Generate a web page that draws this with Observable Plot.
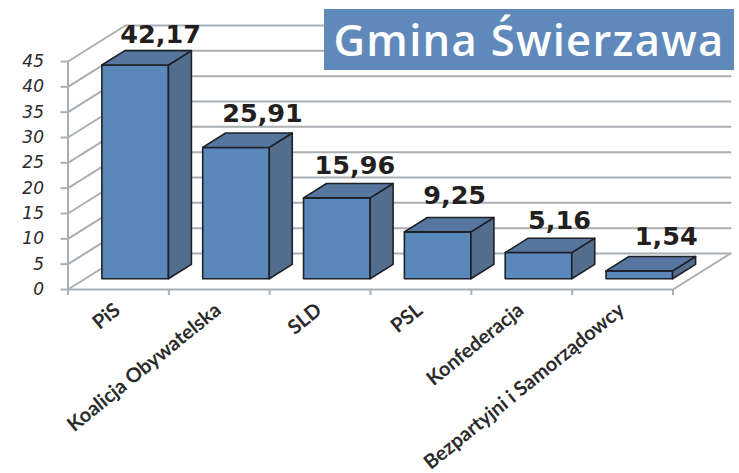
<!DOCTYPE html>
<html>
<head>
<meta charset="utf-8">
<script src="https://cdn.jsdelivr.net/npm/d3@7"></script>
<script src="https://cdn.jsdelivr.net/npm/@observablehq/plot@0.6"></script>
<style>
  html, body { margin: 0; padding: 0; background: #fff; }
  #wrap { position: relative; width: 739px; height: 473px; overflow: hidden; }
  #title { position: absolute; left: 324px; top: 9px; width: 410px; height: 61px; background: #5f89bb; color: #fff;
    font: 600 43.5px "Open Sans", sans-serif; letter-spacing: 1.3px; line-height: 62px; text-align: center; white-space: nowrap; }
  svg { display: block; }
</style>
</head>
<body>
<div id="wrap"><div id="title">Gmina Świerzawa</div></div>
<script>
const parties = ["PiS", "Koalicja Obywatelska", "SLD", "PSL", "Konfederacja", "Bezpartyjni i Samorządowcy"];
const shares = [42.17, 25.91, 15.96, 9.25, 5.16, 1.54];
const labels = ["42,17", "25,91", "15,96", "9,25", "5,16", "1,54"];
const yTicks = [0, 5, 10, 15, 20, 25, 30, 35, 40, 45];

// Oblique projection: depth d (0..1) shifts a point right and up, in data units.
const depthX = 0.57, depthY = 7.1;
const proj = (cat, val, d) => ({x: cat + d * depthX, y: val + d * depthY});
const gap = 0.165, barW = 0.66, d0 = 0.3, d1 = 0.7;

const wall = yTicks.flatMap(v => [
  {...proj(0, v, 0), id: v},
  {...proj(0, v, 1), id: v},
  {...proj(6, v, 1), id: v}
]);
const floorEdge = [proj(6, 0, 0), proj(6, 0, 1)];
const catEdges = d3.range(0, 7);

const faces = {front: [], side: [], top: []};
shares.forEach((v, i) => {
  const l = i + gap, r = l + barW;
  const poly = (name, pts) => pts.forEach(p => faces[name].push({...proj(...p), id: i}));
  poly("front", [[l, 0, d0], [r, 0, d0], [r, v, d0], [l, v, d0], [l, 0, d0]]);
  poly("side", [[r, 0, d0], [r, 0, d1], [r, v, d1], [r, v, d0], [r, 0, d0]]);
  poly("top", [[l, v, d0], [r, v, d0], [r, v, d1], [l, v, d1], [l, v, d0]]);
});

const grey = "#a9afb3", ink = "#1d2126";
const faceMark = (name, fill) => Plot.line(faces[name], {x: "x", y: "y", z: "id", fill,
  stroke: ink, strokeWidth: 1.6, strokeLinejoin: "round"});

// small per-label placement offsets in pixels, as in the source
const nudgeX = [25.5, 26.5, 18, 17, 21, 27], nudgeY = [-30, -34, -32, -36, -32, -34];
const labelMarks = shares.map((v, i) => {
  const c = proj(i + gap + barW / 2, v, d0);
  return Plot.text([labels[i]], {x: () => c.x, y: () => c.y, dx: nudgeX[i], dy: nudgeY[i],
    fontFamily: "DejaVu Sans", fontWeight: "bold", fontSize: 25.5, fill: "#231f20", stroke: "none"});
});

const chart = Plot.plot({
  width: 739, height: 473,
  marginLeft: 67.5, marginRight: 66.5, marginTop: 61, marginBottom: 184,
  x: {domain: [0, 6]},
  y: {domain: [0, 45]},
  marks: [
    Plot.line(wall, {x: "x", y: "y", z: "id", stroke: grey, strokeWidth: 2}),
    Plot.line(floorEdge, {x: "x", y: "y", stroke: grey, strokeWidth: 2}),
    Plot.ruleX([0], {y1: 0, y2: 45, stroke: grey, strokeWidth: 2}),
    Plot.ruleY([0], {x1: 0, x2: 6, stroke: grey, strokeWidth: 2}),
    Plot.axisY({ticks: yTicks, tickSize: 7, tickPadding: 17, stroke: grey, strokeWidth: 2,
      label: null, fill: "#2b2b2b", fontSize: 17, fontStyle: "italic", fontFamily: "DejaVu Sans", tickFormat: d => d}),
    Plot.axisX({ticks: catEdges, tickSize: 6, tickFormat: () => "", stroke: grey, strokeWidth: 2, label: null}),
    faceMark("front", "#5b88bb"),
    faceMark("side", "#536d8e"),
    faceMark("top", "#56769f"),
    ...labelMarks,
    Plot.text(parties, {x: (d, i) => i + 0.5, y: () => 0, dx: -1, dy: 18, text: d => d, rotate: -39,
      textAnchor: "end", fontFamily: "Lato", fontWeight: "bold", fontSize: 20, fill: "#2b2b2b", stroke: "none"})
  ]
});
document.getElementById("wrap").prepend(chart);
chart.style.position = "absolute";
chart.style.left = "0";
chart.style.top = "0";
</script>
</body>
</html>
